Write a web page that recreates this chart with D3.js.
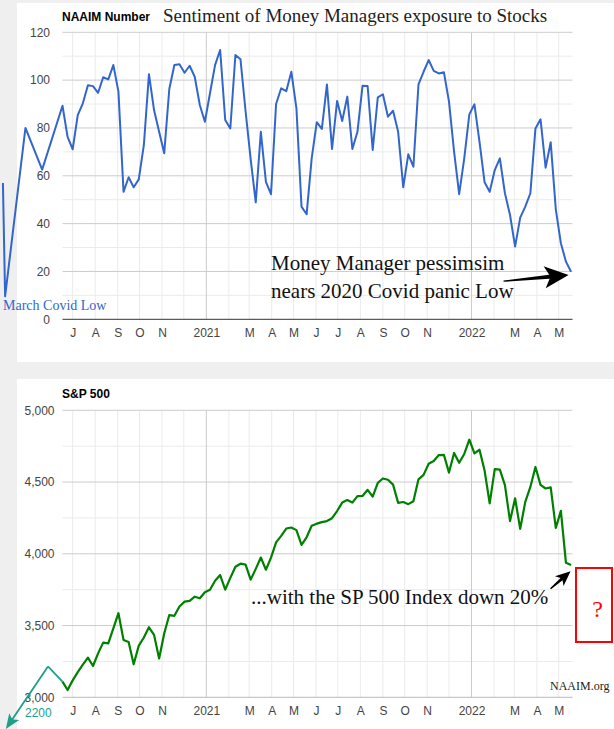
<!DOCTYPE html>
<html>
<head>
<meta charset="utf-8">
<script src="https://cdn.jsdelivr.net/npm/d3@7"></script>
<style>
  html, body { margin: 0; padding: 0; background: #efefef; }
  svg { display: block; }
</style>
</head>
<body>
<svg id="chart" width="614" height="729"></svg>
<script>
// NAAIM exposure index, one reading per week starting 2020-06-17
const naaimStart = "2020-06-17";
const naaimValues = [
  89.3, 76.3, 71.1, 85.4, 90.3, 97.9, 97.5, 94.7, 101.2, 100.3, 106.3, 95.2,
  53.3, 59.4, 55.2, 58.5, 72.9, 102.5, 87.5, 78.4, 69.4, 96.3, 106.3, 106.6,
  103.1, 106.0, 101.4, 89.6, 82.6, 94.5, 106.3, 112.6, 83.3, 79.8,
  110.5, 108.7, 87, 67, 48.9, 78.4, 57.5, 52.3, 90.0, 96.6, 95.4, 103.5,
  88.2, 47.1, 43.9, 67.3, 82.4, 79.6, 98.2, 71.2, 91.3, 82.9, 93.1, 71.2,
  78.4, 97.7, 97.5, 70.8, 92.8, 94.1, 84.7, 87.2, 78.4,
  55.2, 69.0, 63.8, 98.2, 103.5, 108.4, 103.9, 102.8, 103.3, 91.0, 70.1, 52.3,
  67.3, 85.7, 89.9, 74.2, 57.3, 53.3, 62.4, 67.3, 52.7, 43.6, 30.4, 42.5,
  47.1, 52.7, 79.8, 83.6, 63.4, 74.0, 46, 31.8, 24.1, 19.9
];
// readings pasted in front of the window (March 2020 covid low)
const covidDates = ["2020-03-27", "2020-03-30", "2020-04-27", "2020-05-20"];
const covidValues = [57, 9.6, 80, 62.6];

// S&P 500, same weekly dates
const spValues = [
  3109, 3051, 3118, 3175, 3228, 3276, 3218, 3306, 3381, 3376, 3480, 3586,
  3400, 3386, 3230, 3360, 3417, 3488, 3435, 3271, 3445, 3573, 3568, 3633,
  3667, 3672, 3701, 3690, 3732,
  3750, 3812, 3852, 3750, 3832, 3910, 3931, 3925, 3820, 3895, 3974, 3889,
  3973, 4080, 4125, 4176, 4183, 4165, 4062, 4115, 4195, 4210, 4221, 4228,
  4248, 4298, 4357, 4375, 4357, 4402, 4403, 4446, 4399, 4494, 4525, 4516,
  4482, 4355, 4361, 4346, 4366, 4519, 4550, 4628, 4647, 4688, 4689, 4566,
  4703, 4634, 4696, 4795,
  4700, 4725, 4580, 4352, 4590, 4587, 4478, 4228, 4387, 4174, 4362, 4466,
  4605, 4480, 4455, 4463, 4180, 4299, 3937, 3922
];
// teal note: early June 2020 level, arrow down toward the 2200 low
const spPreDates = ["2020-05-28"];
const spPreValues = [3215];
const spArrowDate = "2020-03-31";
const spArrowValue = 2779;

const monthTickDates = ["2020-07-01", "2020-08-01", "2020-09-01", "2020-10-01", "2020-11-01",
  "2021-01-01", "2021-03-01", "2021-04-01", "2021-05-01", "2021-06-01", "2021-07-01",
  "2021-08-01", "2021-09-01", "2021-10-01", "2021-11-01", "2022-01-01", "2022-03-01",
  "2022-04-01", "2022-05-01"];
const monthTickLabels = ["J", "A", "S", "O", "N", "2021", "M", "A", "M", "J", "J",
  "A", "S", "O", "N", "2022", "M", "A", "M"];
const naaimTicks = [0, 20, 40, 60, 80, 100, 120];
const spTicks = [3000, 3500, 4000, 4500, 5000];

const SANS = "Arial, 'Liberation Sans', sans-serif";
const SERIF = "'Times New Roman', 'Liberation Serif', serif";
const parse = d3.utcParse("%Y-%m-%d");

const weeks = d3.range(naaimValues.length).map(i => d3.utcWeek.offset(parse(naaimStart), i));
const naaim = weeks.map((d, i) => ({ date: d, v: naaimValues[i] }));
const covid = covidDates.map((d, i) => ({ date: parse(d), v: covidValues[i] }));
const sp = weeks.map((d, i) => ({ date: d, v: spValues[i] }));

const svg = d3.select("#chart");

// white panels over the grey page
svg.append("rect").attr("x", 17).attr("y", 3).attr("width", 597).attr("height", 359).attr("fill", "#fff");
svg.append("rect").attr("x", 17).attr("y", 379).attr("width", 597).attr("height", 350).attr("fill", "#fff");

const x = d3.scaleUtc()
  .domain([parse("2020-06-17"), parse("2022-05-20")])
  .range([62.5, 572.5]);

const months = d3.utcMonth.range(parse("2020-07-01"), parse("2022-05-19"));

function drawPanel(y, minor, major, baseColor, labelPad, fmt) {
  const g = svg.append("g");
  const [x0, x1] = x.range();
  const [yb, yt] = y.range();
  g.selectAll(".minor").data(minor).join("line")
    .attr("x1", x0).attr("x2", x1).attr("y1", d => y(d)).attr("y2", d => y(d))
    .attr("stroke", "#ebebeb");
  g.selectAll(".month").data(months).join("line")
    .attr("x1", d => x(d)).attr("x2", d => x(d)).attr("y1", yt).attr("y2", yb)
    .attr("stroke", d => d.getUTCMonth() === 0 ? "#cccccc" : "#ebebeb");
  g.selectAll(".major").data(major.slice(1)).join("line")
    .attr("x1", x0).attr("x2", x1).attr("y1", d => y(d)).attr("y2", d => y(d))
    .attr("stroke", "#cccccc");
  g.append("line")
    .attr("x1", x0).attr("x2", x1).attr("y1", y(major[0])).attr("y2", y(major[0]))
    .attr("stroke", baseColor);

  const ya = svg.append("g").attr("transform", `translate(${x0},0)`)
    .call(d3.axisLeft(y).tickValues(major).tickSize(0).tickPadding(labelPad).tickFormat(fmt));
  ya.select(".domain").remove();
  ya.selectAll("text").attr("font-family", SANS).attr("font-size", 12).attr("fill", "#444");

  const xa = svg.append("g").attr("transform", `translate(0,${yb})`)
    .call(d3.axisBottom(x).tickValues(monthTickDates.map(parse)).tickSize(0).tickPadding(9)
      .tickFormat((d, i) => monthTickLabels[i]));
  xa.select(".domain").remove();
  xa.selectAll("text").attr("font-family", SANS).attr("font-size", 12).attr("fill", "#444");
}

function arrow(tail, tip, headLen, headHalf, w0, w1, color) {
  const dx = tip[0] - tail[0], dy = tip[1] - tail[1];
  const len = Math.hypot(dx, dy);
  const ux = dx / len, uy = dy / len, px = -uy, py = ux;
  const bx = tip[0] - ux * headLen, by = tip[1] - uy * headLen;
  const nx = bx + ux * headLen * 0.2, ny = by + uy * headLen * 0.2;
  const pts = [
    [tail[0] + px * w0 / 2, tail[1] + py * w0 / 2],
    [nx + px * w1 / 2, ny + py * w1 / 2],
    [bx + px * headHalf, by + py * headHalf],
    tip,
    [bx - px * headHalf, by - py * headHalf],
    [nx - px * w1 / 2, ny - py * w1 / 2],
    [tail[0] - px * w0 / 2, tail[1] - py * w0 / 2]
  ];
  svg.append("polygon").attr("points", pts.map(p => p.join(",")).join(" ")).attr("fill", color);
}

// ---- top chart: NAAIM number ----
const yTop = d3.scaleLinear().domain([0, 120]).range([319.3, 32.3]);
drawPanel(yTop, d3.range(10, 120, 20), naaimTicks, "#333", 12.5, d => d);

const lineTop = d3.line().x(d => x(d.date)).y(d => yTop(d.v));
svg.append("path").datum(covid.concat(naaim)).attr("d", lineTop)
  .attr("fill", "none").attr("stroke", "#3366cc").attr("stroke-width", 2)
  .attr("stroke-linejoin", "round");

svg.append("text").attr("x", 62).attr("y", 20.5).text("NAAIM Number")
  .attr("font-family", SANS).attr("font-size", 12).attr("font-weight", "bold").attr("fill", "#000");
svg.append("text").attr("x", 163).attr("y", 22).text("Sentiment of Money Managers exposure to Stocks")
  .attr("font-family", SERIF).attr("font-size", 19).attr("fill", "#222");
svg.append("text").attr("x", 3).attr("y", 310).text("March Covid Low")
  .attr("font-family", SERIF).attr("font-size", 14).attr("fill", "#3366cc");
svg.append("text").attr("font-family", SERIF).attr("font-size", 21).attr("fill", "#111")
  .selectAll("tspan").data(["Money Manager pessimsim", "nears 2020 Covid panic Low"]).join("tspan")
  .attr("x", 271).attr("y", (d, i) => 270 + i * 28).text(d => d);

const lastN = naaim[naaim.length - 1];
const pN = [x(lastN.date), yTop(lastN.v)];
arrow([pN[0] - 67.5, pN[1] + 9.5], [pN[0] - 2.5, pN[1] + 3.3], 24, 11, 1.2, 4, "#000");

// ---- bottom chart: S&P 500 ----
const ySp = d3.scaleLinear().domain([3000, 5000]).range([697.3, 410.3]);
drawPanel(ySp, d3.range(3250, 5000, 500), spTicks, "#bbbbbb", 8, d3.format(","));

const lineSp = d3.line().x(d => x(d.date)).y(d => ySp(d.v));
svg.append("path").datum(sp).attr("d", lineSp)
  .attr("fill", "none").attr("stroke", "#008000").attr("stroke-width", 2.2)
  .attr("stroke-linejoin", "round");

svg.append("text").attr("x", 62).attr("y", 398).text("S&P 500")
  .attr("font-family", SANS).attr("font-size", 12).attr("font-weight", "bold").attr("fill", "#000");

// teal note for the 2200 covid low
const teal = "#1f9e89";
const pre = spPreDates.map((d, i) => [x(parse(d)), ySp(spPreValues[i])]);
const tealTip = [x(parse(spArrowDate)), ySp(spArrowValue)];
const first = [x(sp[0].date), ySp(sp[0].v)];
svg.append("polyline").attr("points", [first, ...pre].map(p => p.join(",")).join(" "))
  .attr("fill", "none").attr("stroke", teal).attr("stroke-width", 1.8);
arrow(pre[pre.length - 1], tealTip, 15, 6, 1.8, 1.8, teal);
svg.append("text").attr("x", 25).attr("y", 717).text("2200")
  .attr("font-family", SANS).attr("font-size", 12).attr("fill", teal);

svg.append("text").attr("x", 251).attr("y", 604).text("...with the SP 500 Index down 20%")
  .attr("font-family", SERIF).attr("font-size", 21).attr("fill", "#111");

const lastS = sp[sp.length - 1];
const pS = [x(lastS.date), ySp(lastS.v)];
arrow([pS[0] - 20.5, pS[1] + 23.8], [pS[0] - 0.5, pS[1] + 6.2], 15, 6.5, 1.5, 3, "#000");

// red box with question mark
svg.append("rect").attr("x", 576).attr("y", 568).attr("width", 36).attr("height", 74)
  .attr("fill", "none").attr("stroke", "#f00").attr("stroke-width", 2);
svg.append("text").attr("x", 597.5).attr("y", 617).attr("text-anchor", "middle").text("?")
  .attr("font-family", SERIF).attr("font-size", 24).attr("fill", "#f00");

svg.append("text").attr("x", 550).attr("y", 690).text("NAAIM.org")
  .attr("font-family", SERIF).attr("font-size", 12).attr("fill", "#222");
</script>
</body>
</html>
